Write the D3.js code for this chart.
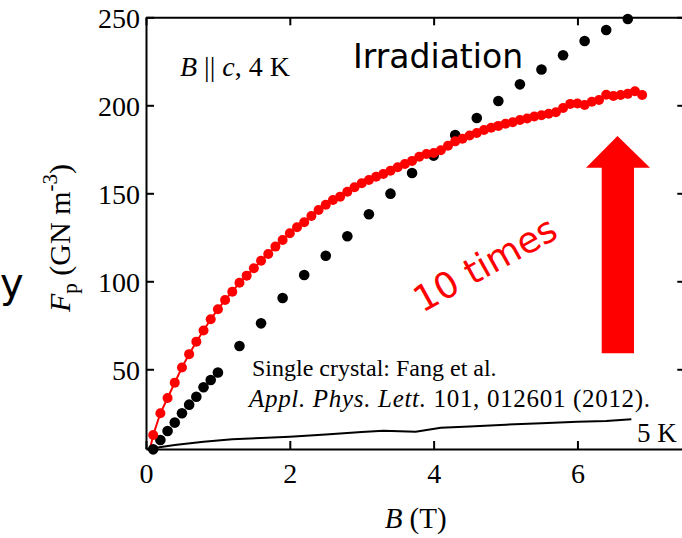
<!DOCTYPE html>
<html>
<head>
<meta charset="utf-8">
<script src="https://cdn.jsdelivr.net/npm/d3@7"></script>
<style>
  body { margin: 0; background: #fff; }
  svg { display: block; }
  .serif { font-family: "Liberation Serif", "Times New Roman", serif; }
  .sans { font-family: "DejaVu Sans", Verdana, sans-serif; }
</style>
</head>
<body>
<svg id="js-svg" width="682" height="538"></svg>
<script>
// irradiated sample, every 0.3 T after 1 T
const irrB = [0.1, 0.2, 0.3, 0.4, 0.5, 0.6, 0.7, 0.8, 0.9, 1.0,
  1.3, 1.6, 1.9, 2.2, 2.5, 2.8, 3.1, 3.4, 3.7, 4.0,
  4.3, 4.6, 4.9, 5.2, 5.5, 5.8, 6.1, 6.4, 6.7];
const irrFp = [4.5, 9.8, 14.9, 19.7, 25.0, 29.9, 34.4, 39.8, 43.9, 48.2,
  63.2, 76.1, 90.5, 103.6, 114.5, 125.6, 138.1, 149.8, 161.5, 171.4,
  183.1, 192.8, 202.4, 211.9, 220.3, 228.4, 236.5, 242.8, 249.0];

// red series, 0.1 T steps
const redB = d3.range(1, 70).map(i => i / 10);
const redFp = [12.7, 25.0, 33.7, 42.4, 51.0, 58.6, 65.7, 72.0, 78.4, 84.1,
  89.4, 94.1, 99.2, 103.2, 107.4, 111.7, 115.5, 119.7, 123.5, 127.3,
  130.7, 133.5, 137.1, 140.5, 143.5, 146.2, 148.1, 150.9, 153.4, 155.7,
  157.6, 159.4, 161.0, 162.8, 164.8, 166.6, 168.4, 170.8, 172.3, 172.9,
  174.5, 177.0, 179.5, 181.0, 182.8, 184.3, 186.0, 187.2, 188.3, 189.5,
  190.4, 191.6, 192.5, 193.6, 194.3, 195.2, 196.0, 198.5, 200.8, 201.0,
  200.2, 202.0, 203.0, 206.0, 205.3, 205.8, 206.5, 208.0, 205.8];
const redStart = [0.06, 5.5];

// single crystal, 5 K (Fang et al.)
const scB = [0.02, 0.4, 0.8, 1.2, 1.6, 2.0, 2.5, 3.0, 3.3, 3.75, 4.1, 4.5, 5.0, 5.5, 6.0, 6.4, 6.75];
const scFp = [4.7, 7.0, 8.8, 10.2, 11.0, 11.7, 13.0, 14.3, 15.1, 14.5, 16.8, 17.5, 18.5, 19.4, 20.2, 20.6, 21.6];

const xTicks = [0, 2, 4, 6];
const yTicks = [50, 100, 150, 200, 250];

const svg = d3.select("#js-svg");
const plotLeft = 146, plotRight = 685.3, plotTop = 17.3, plotBottom = 449;

const x = d3.scaleLinear().domain([0, 7.5]).range([plotLeft, plotRight]);
const y = d3.scaleLinear().domain([4.7, 250]).range([plotBottom, plotTop]);

// frame + inward ticks
svg.append("g")
  .attr("transform", `translate(0,${plotBottom})`)
  .call(d3.axisBottom(x).tickValues(xTicks).tickSize(-8).tickSizeOuter(0).tickPadding(14))
  .call(g => g.selectAll("text").attr("class", "serif").style("font-size", "28px").attr("fill", "#000"));
svg.append("g")
  .attr("transform", `translate(0,${plotTop})`)
  .call(d3.axisTop(x).tickValues(xTicks).tickSize(-8).tickSizeOuter(0).tickFormat(""));
svg.append("g")
  .attr("transform", `translate(${plotLeft},0)`)
  .call(d3.axisLeft(y).tickValues(yTicks).tickSize(-8).tickSizeOuter(0).tickPadding(6))
  .call(g => g.selectAll("text").attr("class", "serif").style("font-size", "28px").attr("dy", "0.36em").attr("fill", "#000"));
svg.append("g")
  .attr("transform", `translate(${plotRight},0)`)
  .call(d3.axisRight(y).tickValues(yTicks).tickSize(-8).tickSizeOuter(0).tickFormat(""));
svg.selectAll(".domain, .tick line").attr("stroke", "#000").attr("stroke-width", 2);

// single crystal line
const line = d3.line().x(d => x(d[0])).y(d => y(d[1]));
svg.append("path")
  .datum(d3.zip(scB, scFp))
  .attr("d", line)
  .attr("fill", "none")
  .attr("stroke", "#000")
  .attr("stroke-width", 2);

// red connecting line
svg.append("path")
  .datum([redStart].concat(d3.zip(redB, redFp)))
  .attr("d", line)
  .attr("fill", "none")
  .attr("stroke", "#ff0000")
  .attr("stroke-width", 2);

// black dots
svg.append("g").selectAll("circle")
  .data(d3.zip(irrB, irrFp))
  .join("circle")
  .attr("cx", d => x(d[0]))
  .attr("cy", d => y(d[1]))
  .attr("r", 5.3)
  .attr("fill", "#000");

// red dots
svg.append("g").selectAll("circle")
  .data(d3.zip(redB, redFp))
  .join("circle")
  .attr("cx", d => x(d[0]))
  .attr("cy", d => y(d[1]))
  .attr("r", 5)
  .attr("fill", "#ff0000");

// axis titles
svg.append("text")
  .attr("class", "serif")
  .attr("x", (plotLeft + plotRight) / 2)
  .attr("y", 528)
  .attr("text-anchor", "middle")
  .style("font-size", "29px")
  .html('<tspan font-style="italic">B</tspan> (T)');

const yl = svg.append("text")
  .attr("class", "serif")
  .attr("transform", "translate(70,238) rotate(-90)")
  .attr("text-anchor", "middle")
  .style("font-size", "30px");
yl.append("tspan").attr("font-style", "italic").text("F");
yl.append("tspan").attr("dy", 7).style("font-size", "21px").text("p");
yl.append("tspan").attr("dy", -7).text(" (GN m");
yl.append("tspan").attr("dy", -13).style("font-size", "21px").text("-3");
yl.append("tspan").attr("dy", 13).text(")");

// annotations
svg.append("text")
  .attr("class", "serif")
  .attr("x", 180).attr("y", 76)
  .style("font-size", "28px")
  .html('<tspan font-style="italic">B</tspan> || <tspan font-style="italic">c</tspan>, 4 K');

svg.append("text")
  .attr("class", "sans")
  .attr("x", 353).attr("y", 68)
  .style("font-size", "33px")
  .text("Irradiation");

svg.append("text")
  .attr("class", "serif")
  .attr("x", 252).attr("y", 376)
  .style("font-size", "24px")
  .text("Single crystal: Fang et al.");

svg.append("text")
  .attr("class", "serif")
  .attr("x", 249).attr("y", 407)
  .attr("textLength", 401)
  .attr("lengthAdjust", "spacing")
  .style("font-size", "25px")
  .html('<tspan font-style="italic">Appl. Phys. Lett.</tspan> 101, 012601 (2012).');

svg.append("text")
  .attr("class", "serif")
  .attr("x", 637).attr("y", 442)
  .style("font-size", "27px")
  .text("5 K");

svg.append("text")
  .attr("class", "sans")
  .attr("transform", "translate(485,264) rotate(-29)")
  .attr("text-anchor", "middle")
  .attr("dy", "0.35em")
  .attr("fill", "#ff0000")
  .style("font-size", "36px")
  .text("10 times");

// big arrow
svg.append("path")
  .attr("d", "M601.7,353.3 L601.7,167.7 L586,167.7 L617.5,136 L650,167.7 L634,167.7 L634,353.3 Z")
  .attr("fill", "#ff0000");

// clipped word from the slide on the left
svg.append("text")
  .attr("class", "sans")
  .attr("x", 0).attr("y", 297)
  .style("font-size", "40px")
  .text("y");
</script>
</body>
</html>
